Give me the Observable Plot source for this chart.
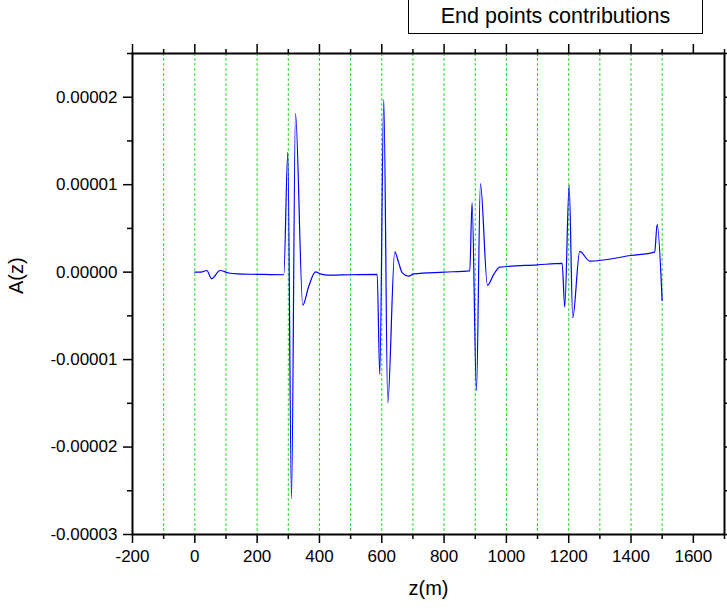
<!DOCTYPE html>
<html><head><meta charset="utf-8">
<script src="https://cdn.jsdelivr.net/npm/d3@7"></script>
<script src="https://cdn.jsdelivr.net/npm/@observablehq/plot@0.6"></script>
<style>
body{margin:0;background:#fff;}
#wrap{position:relative;width:727px;height:611px;}
#legend{position:absolute;z-index:2;left:408px;top:-1px;width:295px;height:35px;box-sizing:border-box;border:1px solid #000;font:21.5px 'Liberation Sans',Arial,sans-serif;display:flex;align-items:center;justify-content:center;background:#fff;color:#000;}
</style></head><body><div id="wrap"><div id="legend">End points contributions</div></div>
<script>
// z (m) positions
const zValues = [0, 20, 38.5, 53.6, 81, 109, 137, 200, 285.6,
  298.4, 310.3, 323.1, 346.5, 365, 387.3, 403, 429, 500, 585.2,
  593.6, 606.4, 619.2, 641.7, 654.5, 665.5, 686.6, 702.7, 800, 882.4,
  889.8, 903.9, 916.7, 939.2, 959.4, 978.7, 1100, 1178.9,
  1187.3, 1201.4, 1213, 1235.4, 1267.5, 1400, 1476,
  1483.8, 1499.8];
// A(z) values
const aValues = [0, 0, 1.9e-7, -7.5e-7, 1.9e-7, -1e-7, -2e-7, -2.5e-7, -3e-7,
  1.373e-5, -2.594e-5, 1.816e-5, -3.78e-6, -1.7e-6, 3e-8, -2e-7, -3.4e-7, -3e-7, -2.6e-7,
  -1.170e-5, 1.976e-5, -1.495e-5, 2.32e-6, 1.06e-6, -8e-8, -4.6e-7, -2e-7, 0, 1.5e-7,
  7.93e-6, -1.356e-5, 1.013e-5, -1.51e-6, -2.6e-7, 5.7e-7, 8.3e-7, 1.0e-6,
  -4.0e-6, 9.95e-6, -5.23e-6, 2.37e-6, 1.26e-6, 1.9e-6, 2.29e-6,
  5.46e-6, -3.24e-6];

const xMajor = [-200, 0, 200, 400, 600, 800, 1000, 1200, 1400, 1600];
const xMinor = [-100, 100, 300, 500, 700, 900, 1100, 1300, 1500, 1700];
const gridX = [-100, 0, 100, 200, 300, 400, 500, 600, 700, 800, 900, 1000, 1100, 1200, 1300, 1400, 1500];
const yMajor = [-0.00003, -0.00002, -0.00001, 0, 0.00001, 0.00002];
const yMinor = [-0.000025, -0.000015, -0.000005, 0.000005, 0.000015, 0.000025];
const xTitle = "z(m)";
const yTitle = "A(z)";

const data = zValues.map((z, i) => ({z, a: aValues[i]}));

const font = "'Liberation Sans', Arial, sans-serif";
const chart = Plot.plot({
  width: 727, height: 611,
  marginTop: 53, marginBottom: 77, marginLeft: 132, marginRight: 3,
  x: {domain: [-200, 1700]},
  y: {domain: [-0.00003, 0.000025]},
  style: {fontFamily: font, fontSize: "17px", color: "#000", background: "#fff", overflow: "visible"},
  marks: [
    Plot.ruleX(gridX, {stroke: "#22dd22", strokeWidth: 1, strokeDasharray: "3,2"}),
    Plot.line(data, {x: "z", y: "a", stroke: "#0000ff", strokeWidth: 1.2, curve: "monotone-x"}),
    Plot.frame({stroke: "#000", strokeWidth: 2}),
    Plot.axisX(xMajor, {anchor: "bottom", tickSize: 9, tickPadding: 6, strokeWidth: 1.5, tickFormat: d => String(d), label: null}),
    Plot.axisX(xMinor, {anchor: "bottom", tickSize: 5, strokeWidth: 1.5, fill: "none", label: null}),
    Plot.axisX(xMajor, {anchor: "top", tickSize: 10, strokeWidth: 1.5, fill: "none", label: null}),
    Plot.axisX(xMinor, {anchor: "top", tickSize: 5, strokeWidth: 1.5, fill: "none", label: null}),
    Plot.axisY(yMajor, {anchor: "left", tickSize: 9, tickPadding: 6, strokeWidth: 1.5, tickFormat: d => d.toFixed(5), label: null}),
    Plot.axisY(yMinor, {anchor: "left", tickSize: 5, strokeWidth: 1.5, fill: "none", label: null}),
    Plot.axisY(yMajor, {anchor: "right", tickSize: 9, strokeWidth: 1.5, fill: "none", label: null}),
    Plot.axisY(yMinor, {anchor: "right", tickSize: 5, strokeWidth: 1.5, fill: "none", label: null}),
    Plot.text([xTitle], {frameAnchor: "bottom", text: d => d, dy: 60, fontSize: 20, fill: "#000"}),
    Plot.text([yTitle], {frameAnchor: "left", text: d => d, dx: -116, rotate: -90, fontSize: 20, fill: "#000"})
  ]
});
document.getElementById("wrap").prepend(chart);
</script>
</body></html>
